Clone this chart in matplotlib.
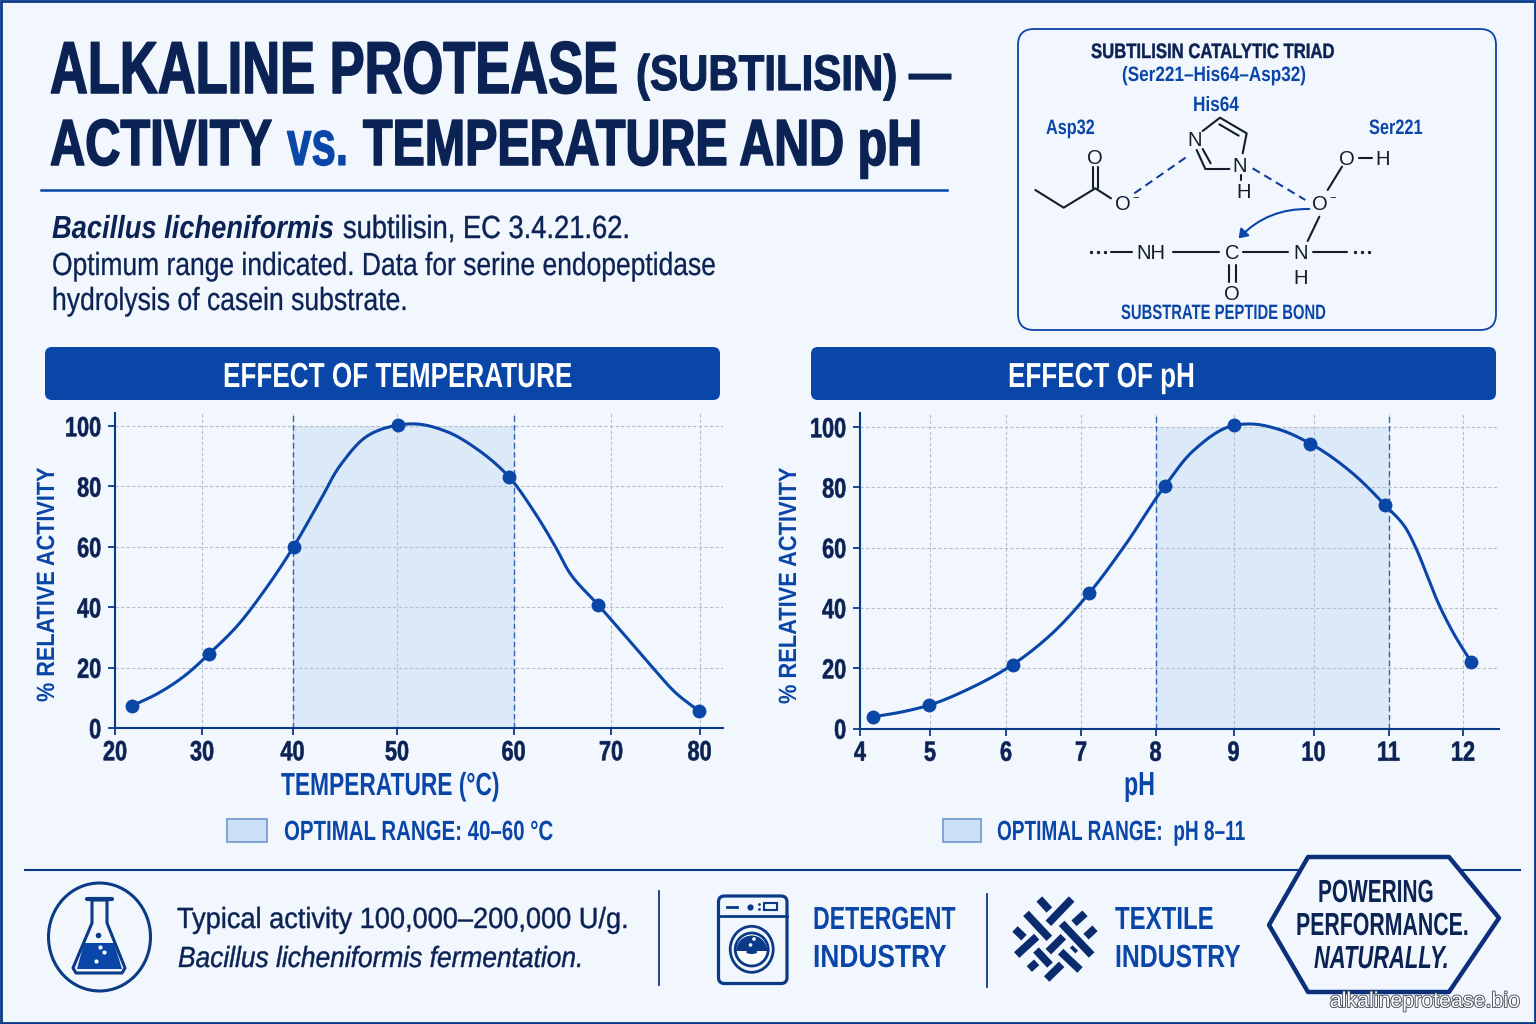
import numpy as np
import matplotlib
matplotlib.use("Agg")
import matplotlib.pyplot as plt
import matplotlib.font_manager as fm
import matplotlib.patheffects as pe
from matplotlib.patches import FancyBboxPatch, Rectangle, Circle, Ellipse, Polygon, Wedge, FancyArrowPatch
from matplotlib.transforms import Affine2D

# values
temp_ticks = [20, 30, 40, 50, 60, 70, 80]
temp_x = [22.0, 30.8, 40.1, 50.1, 59.6, 68.7, 79.9]
temp_y = [7.4, 24.6, 60.0, 100.3, 83.2, 40.7, 5.7]
temp_curve_x = [22.0, 24.9, 28.1, 30.8, 33.8, 36.8, 40.1, 42.5, 44.7, 47.3, 50.1, 51.5,
                54.3, 57.0, 59.6, 62.0, 64.3, 65.8, 68.7, 71.7, 74.8, 77.4, 79.9]
temp_curve_y = [7.4, 11.4, 17.5, 24.6, 33.5, 45.1, 60.0, 74.4, 87.6, 97.0, 100.3, 100.7,
                98.1, 92.0, 83.2, 72.2, 60.0, 51.2, 40.7, 30.2, 19.7, 11.4, 5.7]

ph_ticks = [4, 5, 6, 7, 8, 9, 10, 11, 12]
ph_x = [4.19, 4.99, 6.09, 7.11, 8.12, 9.0, 9.96, 10.95, 12.11]
ph_y = [3.9, 7.75, 21.2, 44.9, 80.4, 100.5, 94.5, 74.2, 22.0]
ph_curve_x = [4.19, 4.60, 4.99, 5.50, 6.09, 6.57, 7.11, 7.58, 8.12, 8.50, 9.0, 9.22,
              9.58, 9.96, 10.49, 10.95, 11.22, 11.36, 11.49, 11.67, 11.87, 12.11]
ph_curve_y = [3.9, 5.5, 7.75, 13.0, 21.2, 30.5, 44.9, 60.4, 80.4, 92.5, 100.5, 101.0,
              99.1, 94.5, 85.3, 74.2, 66.9, 60.3, 52.6, 41.5, 31.7, 22.0]

activity_ticks = [0, 20, 40, 60, 80, 100]

# the reference axes are not evenly spaced, so each tick has its own pixel column
temp_axis_values = [20, 30, 40, 50, 60, 70, 80, 82.6]
temp_axis_px = [115, 202, 292.5, 397, 513.5, 611, 699.5, 722.5]
ph_axis_values = [4, 5, 6, 7, 8, 9, 10, 11, 12, 12.48]
ph_axis_px = [860, 930, 1006, 1081, 1155.5, 1233.5, 1313.5, 1388.5, 1463, 1499]

W, H = 1536, 1024
BG = "#f2f7fe"
NAVY = "#0b2254"
BLUE = "#0a45a8"
EDGE = "#0b3a86"
WEAVE = "#0a2c6e"
BOND = "#141c2b"

names = {f.name for f in fm.fontManager.ttflist}
NARROW = "Liberation Sans Narrow" if "Liberation Sans Narrow" in names else "Liberation Sans"

fig = plt.figure(figsize=(W / 100, H / 100), dpi=100, facecolor=BG)
bg = fig.add_axes([0, 0, 1, 1])
bg.set_xlim(0, W)
bg.set_ylim(H, 0)
bg.axis("off")
renderer = fig.canvas.get_renderer()


class Stretch(pe.AbstractPathEffect):
    # stretches the glyphs one way, no installed font is as condensed as the reference
    def __init__(self, anchor, factor, vertical=True, heavy=0):
        super().__init__()
        self.anchor = anchor
        self.factor = factor
        self.vertical = vertical
        self.heavy = heavy

    def draw_path(self, renderer, gc, tpath, affine, rgbFace=None):
        a = self.anchor
        if self.vertical:
            t = Affine2D().translate(0, -a).scale(1, self.factor).translate(0, a)
        else:
            t = Affine2D().translate(-a, 0).scale(self.factor, 1).translate(a, 0)
        gc0 = renderer.new_gc()
        gc0.copy_properties(gc)
        gc0.set_linewidth(self.heavy)
        renderer.draw_path(gc0, tpath, affine + t, rgbFace)
        gc0.restore()


def fit(s, x0, x1, base, size, color=NAVY, weight="bold", style="normal", family=NARROW, heavy=0):
    # text from x0 to x1 on baseline base, all in picture pixels; size is the height it should look
    t = bg.text(x0, base, s, fontsize=size, color=color, fontweight=weight, fontstyle=style,
                family=family, ha="left", va="baseline")
    k = (x1 - x0) / t.get_window_extent(renderer).width
    t.set_fontsize(size * k)
    t.set_path_effects([Stretch(H - base, 1 / k, True, heavy)])
    return t


def fit_v(s, xbase, y0, y1, size, color=BLUE):
    # rotated axis title, y0 is the bottom end
    t = bg.text(xbase, y0, s, fontsize=size, color=color, fontweight="bold", family="Liberation Sans",
                rotation=90, ha="left", va="baseline", rotation_mode="anchor")
    k = (y0 - y1) / t.get_window_extent(renderer).height
    t.set_fontsize(size * k)
    t.set_path_effects([Stretch(xbase, 1 / k, False)])
    return t


def smooth(xs, ys, n=24):
    # hermite curve through the points, spaced by chord length
    p = np.c_[xs, np.array(ys, float) * 3]
    t = np.r_[0, np.cumsum(np.hypot(*np.diff(p, axis=0).T))]
    m = np.gradient(p, t, axis=0)
    u = np.linspace(0, 1, n, endpoint=False)[:, None]
    out = []
    for i in range(len(p) - 1):
        h = t[i + 1] - t[i]
        out.append((2 * u ** 3 - 3 * u ** 2 + 1) * p[i] + (u ** 3 - 2 * u ** 2 + u) * h * m[i]
                   + (3 * u ** 2 - 2 * u ** 3) * p[i + 1] + (u ** 3 - u ** 2) * h * m[i + 1])
    out.append(p[-1:])
    return np.vstack(out) / [1, 3]


def style_tick(lab, anchor):
    lab.set_family(NARROW)
    lab.set_fontweight("bold")
    lab.set_fontsize(20 * 0.78)
    lab.set_color(NAVY)
    lab.set_path_effects([Stretch(anchor, 1 / 0.78, True, 0.4)])


def chart(values, px, ticks, xs, ys, cx, cy, band, y0px, y100px):
    left, right = px[0], px[-1]
    top = 413
    unit = (y0px - y100px) / 100
    ax = fig.add_axes([left / W, 1 - y0px / H, (right - left) / W, (y0px - top) / H])
    ax.patch.set_alpha(0)
    fwd = lambda v: np.interp(v, values, px)
    inv = lambda p: np.interp(p, px, values)
    ax.set_xscale("function", functions=(fwd, inv))
    ax.set_xlim(values[0], values[-1])
    ax.set_ylim(0, (y0px - top) / unit)

    ax.fill_between(band, [0, 0], [100, 100], color="#dbe9f9", lw=0, zorder=1)
    ax.grid(True, color="#b4bfce", lw=0.8, ls=(0, (3, 2)), zorder=2)
    ax.set_axisbelow(False)
    for b in band:
        ax.axvline(b, color="#2f62b5", lw=1.0, ls=(0, (4, 2.5)), zorder=3)

    line = smooth(fwd(np.array(cx)), cy)
    ax.plot(inv(line[:, 0]), line[:, 1], color=BLUE, lw=2.2, zorder=4, solid_capstyle="round")
    ax.plot(xs, ys, "o", color=BLUE, ms=10, mew=0, zorder=5, clip_on=False)

    ax.set_xticks(ticks, [str(t) for t in ticks])
    ax.set_yticks(activity_ticks, [str(t) for t in activity_ticks])
    ax.minorticks_off()
    ax.tick_params(length=5, width=1.3, color=EDGE, pad=5)
    ax.tick_params(axis="x", pad=3.5)
    for side in ("top", "right"):
        ax.spines[side].set_visible(False)
    for side in ("left", "bottom"):
        ax.spines[side].set_color(EDGE)
        ax.spines[side].set_linewidth(1.5)
        ax.spines[side].set_zorder(6)
    for lab in ax.get_xticklabels():
        style_tick(lab, H - y0px - 12)
    for t, lab in zip(activity_ticks, ax.get_yticklabels()):
        style_tick(lab, H - y0px + t * unit)
    return ax


# page frame and title block
bg.add_patch(Rectangle((1, 1), W - 2, H - 2, fc="none", ec=EDGE, lw=2))
fit("ALKALINE PROTEASE", 50, 618, 93, 53, heavy=1.1)
fit("(SUBTILISIN) —", 636, 951, 90, 36, heavy=0.8)
fit("ACTIVITY", 50, 272, 165, 47, heavy=1.1)
fit("vs.", 287, 348, 165, 46, color=BLUE, heavy=0.8)
fit("TEMPERATURE AND pH", 363, 922, 165, 47, heavy=1.1)
bg.plot([41, 947], [190, 190], color=BLUE, lw=1.8)

fit("Bacillus licheniformis", 52, 334, 238, 23, style="italic")
fit("subtilisin, EC 3.4.21.62.", 343, 630, 238, 23, weight="normal", heavy=0.3)
fit("Optimum range indicated. Data for serine endopeptidase", 52, 717, 275, 23, weight="normal", heavy=0.2)
fit("hydrolysis of casein substrate.", 52, 408, 310, 23, weight="normal", heavy=0.2)

# catalytic triad box, positions are in a local 3x grid
bg.add_patch(FancyBboxPatch((1018, 29), 478, 301, boxstyle="round,pad=0,rounding_size=16",
                            fc=BG, ec=BLUE, lw=1.3))


def zx(x):
    return 1016 + x / 3


def zy(y):
    return 25 + y / 3


def bond(*pts, color=BOND, lw=1.5, ls="-"):
    bg.plot([zx(p[0]) for p in pts], [zy(p[1]) for p in pts], color=color, lw=lw, ls=ls,
            solid_capstyle="round")


def atom(s, x, y, size=14.5):
    bg.text(zx(x), zy(y) + 1, s, fontsize=size, color=BOND, family="Liberation Sans", ha="center", va="center")


fit("SUBTILISIN CATALYTIC TRIAD", 1091, 1335, 58, 15, heavy=0.3)
fit("(Ser221–His64–Asp32)", 1122, 1307, 81, 15, color=BLUE)
fit("His64", 1193, 1239, 111, 15, color=BLUE)
fit("Asp32", 1046, 1095, 134, 15, color=BLUE)
fit("Ser221", 1369, 1423, 134, 15, color=BLUE)
fit("SUBSTRATE PEPTIDE BOND", 1121, 1326, 319, 15, color=BLUE)

bond((58, 495), (143, 548), (238, 490), (285, 520))
bond((232, 425), (232, 490))
bond((246, 425), (246, 490))
atom("O", 238, 398)
atom("O", 320, 535)
atom("−", 360, 515, 8)
bond((355, 505), (520, 390), color="#123f96", ls=(0, (4, 2.5)))
atom("N", 537, 345)
bond((560, 318), (612, 278), (692, 325), (680, 385))
bond((610, 298), (668, 332))
atom("N", 672, 420)
bond((640, 432), (568, 432), (542, 375))
bond((560, 372), (584, 415))
bond((676, 450), (676, 465))
atom("H", 682, 498)
bond((710, 430), (868, 525), color="#123f96", ls=(0, (4, 2.5)))
atom("O", 912, 535)
atom("−", 950, 515, 8)
bond((935, 495), (978, 425))
atom("O", 993, 400)
bond((1028, 398), (1068, 398))
atom("H", 1100, 400)
bond((910, 575), (875, 648))
bond((285, 682), (348, 682))
atom("NH", 405, 682)
bond((470, 682), (610, 682))
atom("C", 648, 682)
bond((680, 682), (815, 682))
atom("N", 855, 682)
bond((890, 682), (992, 682))
atom("H", 855, 757)
bond((638, 720), (638, 770))
bond((660, 720), (660, 770))
atom("O", 648, 805)
for dx in (226, 247, 268, 1018, 1039, 1060):
    bg.plot(zx(dx), zy(682), "o", color=BOND, ms=2.4, mew=0)
bg.add_patch(FancyArrowPatch((zx(880), zy(552)), (zx(668), zy(640)), connectionstyle="arc3,rad=0.22",
                             arrowstyle="-|>,head_length=5,head_width=3.5", color=BLUE, lw=1.5,
                             shrinkA=0, shrinkB=0))

# chart headers
bg.add_patch(FancyBboxPatch((45, 347), 675, 53, boxstyle="round,pad=0,rounding_size=7", fc=BLUE, ec="none"))
bg.add_patch(FancyBboxPatch((811, 347), 685, 53, boxstyle="round,pad=0,rounding_size=7", fc=BLUE, ec="none"))
fit("EFFECT OF TEMPERATURE", 223, 573, 387, 25, color="white")
fit("EFFECT OF pH", 1008, 1195, 387, 25, color="white")

chart(temp_axis_values, temp_axis_px, temp_ticks, temp_x, temp_y, temp_curve_x, temp_curve_y, [40, 60], 728, 426)
chart(ph_axis_values, ph_axis_px, ph_ticks, ph_x, ph_y, ph_curve_x, ph_curve_y, [8, 11], 728.5, 427)

fit_v("% RELATIVE ACTIVITY", 54, 702, 468, 18)
fit_v("% RELATIVE ACTIVITY", 796, 704, 468, 18)
fit("TEMPERATURE (°C)", 281, 500, 795, 23, color=BLUE)
fit("pH", 1124, 1155, 795, 24, color=BLUE)

bg.add_patch(Rectangle((227, 819), 40, 23, fc="#cce1f7", ec="#6f97cf", lw=1.2))
bg.add_patch(Rectangle((943, 819), 38, 23, fc="#cce1f7", ec="#6f97cf", lw=1.2))
fit("OPTIMAL RANGE: 40–60 °C", 284, 553, 840, 20, color=BLUE)
fit("OPTIMAL RANGE:  pH 8–11", 997, 1245, 840, 20, color=BLUE)

# footer
bg.plot([25, 1520], [870, 870], color=EDGE, lw=1.5)
bg.plot([659, 659], [891, 985], color=EDGE, lw=1.3)
bg.plot([987, 987], [894, 987], color=EDGE, lw=1.3)

# flask
bg.add_patch(Ellipse((99.5, 937), 102, 108, fc="none", ec=EDGE, lw=2.2))
bg.add_patch(Polygon([(92, 900), (107, 900), (107, 923), (125, 968), (122, 973), (76, 973), (73, 968), (92, 923)],
                     closed=True, fc="none", ec=EDGE, lw=2.2, joinstyle="round"))
bg.plot([87, 112], [899, 899], color=EDGE, lw=3, solid_capstyle="round")
bg.add_patch(Polygon([(84, 943), (114, 943), (122, 969), (77, 969)], closed=True, fc=BLUE, ec="none"))
bg.plot(98, 935, "o", color=EDGE, ms=4, mew=0)
for bx, by in [(104, 952), (96, 961), (100, 947)]:
    bg.plot(bx, by, "o", color="white", ms=3, mew=0)

fit("Typical activity 100,000–200,000 U/g.", 177, 628, 928, 21, weight="normal", heavy=0.3)
fit("Bacillus licheniformis fermentation.", 178, 584, 967, 21, weight="normal", style="italic", heavy=0.3)

# washing machine
bg.add_patch(FancyBboxPatch((718.5, 896), 68.5, 87.5, boxstyle="round,pad=0,rounding_size=6", fc="none", ec=EDGE, lw=2.3))
bg.plot([718.5, 787], [916, 916], color=EDGE, lw=2)
bg.plot([727, 737], [906.5, 906.5], color=EDGE, lw=2)
bg.plot([750], [906.5], "o", color=EDGE, ms=4.5, mew=0)
bg.plot([758.5, 758.5], [904, 909], "o", color=EDGE, ms=2, mew=0)
bg.add_patch(Rectangle((764, 903), 13, 7, fc="none", ec=EDGE, lw=1.5))
bg.add_patch(Ellipse((751.7, 949.3), 43, 46, fc="none", ec=EDGE, lw=2))
bg.add_patch(Circle((751.7, 949.5), 16.5, fc="white", ec=EDGE, lw=2))
bg.add_patch(Wedge((751.7, 951), 15.5, 180, 360, fc=EDGE, ec="none"))
bg.add_patch(Ellipse((751.7, 952), 11, 4, fc=EDGE, ec="none"))
bg.add_patch(Circle((754, 939), 1.8, fc="white", ec="none"))
bg.add_patch(Circle((750.5, 945), 1.8, fc="white", ec="none"))

fit("DETERGENT", 813, 956, 929, 23, color=BLUE)
fit("INDUSTRY", 813, 947, 967, 23, color=BLUE)

# woven cloth, marks in a 3x crop grid from (1000, 885)
weave = [((118, 42), (148, 75)), ((145, 115), (215, 42)), ((222, 115), (255, 85)), ((78, 85), (148, 160)),
         ((45, 132), (72, 158)), ((185, 115), (275, 210)), ((258, 155), (285, 130)), ((50, 210), (110, 155)),
         ((145, 200), (190, 155)), ((108, 195), (150, 240)), ((182, 200), (240, 255)), ((88, 252), (110, 232)),
         ((140, 282), (185, 238)), ((218, 197), (226, 189))]
for a, b in weave:
    bg.plot([1000 + a[0] / 3, 1000 + b[0] / 3], [885 + a[1] / 3, 885 + b[1] / 3], color=WEAVE, lw=5.6,
            solid_capstyle="butt")
fit("TEXTILE", 1115, 1214, 929, 23, color=BLUE)
fit("INDUSTRY", 1115, 1241, 967, 23, color=BLUE)

# badge
bg.add_patch(Polygon([(1308, 857), (1449, 857), (1499, 918), (1449, 992), (1308, 992), (1269, 925)], closed=True,
                     fc=BG, ec="#0c2f7a", lw=3.2, joinstyle="round", zorder=3))
for s, x0, x1, base, st in [("POWERING", 1318, 1434, 902, "normal"), ("PERFORMANCE.", 1296, 1469, 935, "normal"),
                            ("NATURALLY.", 1314, 1449, 968, "italic")]:
    fit(s, x0, x1, base, 23, style=st).set_zorder(4)

wm = bg.text(1520, 1007, "alkalineprotease.bio", fontsize=15.4, color="white", family="Liberation Sans", ha="right",
             va="baseline", zorder=5)
wm.set_path_effects([pe.withStroke(linewidth=1.3, foreground="#444a55")])

fig.savefig("out.png", dpi=100, facecolor=BG)
